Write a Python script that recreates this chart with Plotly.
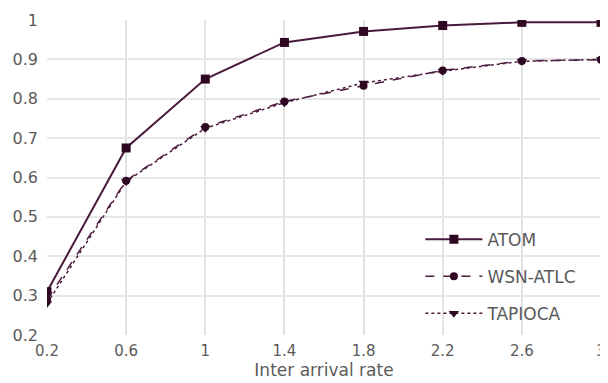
import plotly.graph_objects as go

x_rate = [0.2, 0.6, 1.0, 1.4, 1.8, 2.2, 2.6, 3.0]
atom = [0.31, 0.675, 0.85, 0.943, 0.971, 0.986, 0.994, 0.994]
wsn_atlc = [0.29, 0.592, 0.728, 0.793, 0.833, 0.872, 0.896, 0.899]
tapioca = [0.28, 0.59, 0.725, 0.79, 0.84, 0.87, 0.895, 0.9]

x_ticks = [0.2, 0.6, 1, 1.4, 1.8, 2.2, 2.6, 3]
x_tick_text = ["0.2", "0.6", "1", "1.4", "1.8", "2.2", "2.6", "3"]
y_ticks = [0.2, 0.3, 0.4, 0.5, 0.6, 0.7, 0.8, 0.9, 1.0]
y_tick_text = ["0.2", "0.3", "0.4", "0.5", "0.6", "0.7", "0.8", "0.9", "1"]

line_col = "#4a1a3c"
mark_col = "#2e0822"

fig = go.Figure()
fig.add_trace(go.Scatter(x=x_rate, y=atom, name="ATOM", mode="lines+markers",
                         legendgroup="a",
                         line=dict(color=line_col, width=2, dash="solid"),
                         marker=dict(symbol="square", size=9, color=mark_col)))
fig.add_trace(go.Scatter(x=x_rate, y=wsn_atlc, name="WSN-ATLC", mode="lines+markers",
                         legendgroup="b",
                         line=dict(color=line_col, width=1.5, dash="dash"),
                         marker=dict(symbol="circle", size=8, color=mark_col)))
fig.add_trace(go.Scatter(x=x_rate, y=tapioca, name="TAPIOCA", mode="lines+markers",
                         legendgroup="c",
                         line=dict(color=line_col, width=1.5, dash="dot"),
                         marker=dict(symbol="triangle-down", size=9, color=mark_col)))

# page body has an 8px default margin, so the figure is drawn 8px in from the top-left
fig.update_layout(
    width=600, height=375,
    margin=dict(l=39, r=7, t=12, b=48, autoexpand=False),
    paper_bgcolor="white", plot_bgcolor="white",
    font=dict(family="DejaVu Sans", size=16, color="#5a5a5a"),
    showlegend=True,
    legend=dict(x=0.674, y=0.36, xanchor="left", yanchor="top",
                bgcolor="rgba(0,0,0,0)", tracegroupgap=12, itemwidth=57,
                font=dict(size=17, color="#5a5a5a")),
)
fig.update_xaxes(range=[0.2, 3.0], tickvals=x_ticks, ticktext=x_tick_text,
                 showgrid=True, gridcolor="#e2e2e2", gridwidth=2,
                 zeroline=False, showline=False, ticks="",
                 ticklabeloverflow="allow", ticklabelstandoff=5,
                 automargin=False,
                 title=dict(text="Inter arrival rate", standoff=3,
                            font=dict(size=17, color="#5a5a5a")),
                 tickfont=dict(size=15, color="#5a5a5a"))
fig.update_yaxes(range=[0.2, 1.0], tickvals=y_ticks, ticktext=y_tick_text,
                 showgrid=True, gridcolor="#e6e6e6", gridwidth=2,
                 zeroline=False, showline=False, ticks="",
                 ticklabelstandoff=8, automargin=False,
                 tickfont=dict(size=16, color="#5a5a5a"))

fig.write_html("out.html")
